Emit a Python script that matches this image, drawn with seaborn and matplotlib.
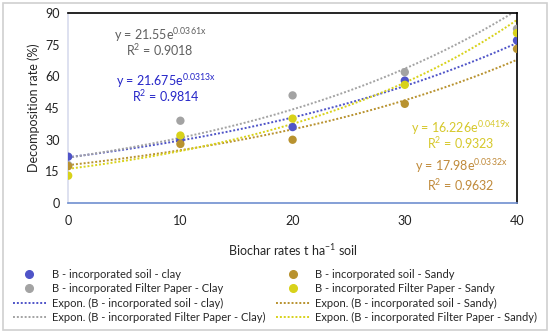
import numpy as np
import pandas as pd
import matplotlib.pyplot as plt
import seaborn as sns
from matplotlib.lines import Line2D
from matplotlib.patches import Rectangle

# data
rates = [0, 10, 20, 30, 40]
soil_clay = [22, 30, 36, 58, 77]
paper_clay = [18, 39, 51, 62, 82.5]
soil_sandy = [17.5, 28, 30, 47, 73]
paper_sandy = [13, 32, 40, 56, 80.5]

# exponential trend parameters printed on the chart (a, b, R2)
fit_soil_clay = (21.675, 0.0313, 0.9814)
fit_paper_clay = (21.55, 0.0361, 0.9018)
fit_soil_sandy = (17.98, 0.0332, 0.9632)
fit_paper_sandy = (16.226, 0.0419, 0.9323)

names = ["B - incorporated soil - clay", "B - incorporated Filter Paper - Clay",
         "B - incorporated soil - Sandy", "B - incorporated Filter Paper - Sandy"]
values = [soil_clay, paper_clay, soil_sandy, paper_sandy]
fits = [fit_soil_clay, fit_paper_clay, fit_soil_sandy, fit_paper_sandy]
colors = ["#4F54C8", "#A3A3A3", "#B8922F", "#D8D21A"]
text_colors = ["#2626C8", "#5F5F5F", "#C08A3A", "#D6C82A"]

df = pd.DataFrame({
    "rate": rates * 4,
    "value": soil_clay + paper_clay + soil_sandy + paper_sandy,
    "series": [n for n in names for _ in rates],
})

xs = np.linspace(0, 40, 200)
trend = pd.concat([
    pd.DataFrame({"rate": xs, "value": a * np.exp(b * xs), "series": n})
    for n, (a, b, r2) in zip(names, fits)
])

sns.set_theme(style="white")
plt.rcParams['font.family'] = ['Lato', 'DejaVu Sans']
plt.rcParams['mathtext.fontset'] = 'custom'
plt.rcParams['mathtext.rm'] = 'Lato'
plt.rcParams['mathtext.it'] = 'Lato'

fig = plt.figure(figsize=(5.5, 3.33), dpi=100)
ax = fig.add_axes([0.124, 0.39, 0.816, 0.571])

palette = dict(zip(names, colors))
sns.lineplot(data=trend, x="rate", y="value", hue="series", palette=palette,
             ax=ax, linestyle=(0, (1, 1)), linewidth=1.4, legend=False)
sns.scatterplot(data=df, x="rate", y="value", hue="series", palette=palette,
                ax=ax, s=36, edgecolor="none", legend=False, zorder=3)

ax.set_xlim(0, 40)
ax.set_ylim(0, 90)
ax.set_xticks([0, 10, 20, 30, 40])
ax.set_yticks(np.arange(0, 91, 15))
ax.tick_params(axis='both', labelsize=9, colors="#222222")
ax.tick_params(axis='x', direction='inout', length=5, color="#6F8FCF", pad=6)
ax.tick_params(axis='y', length=0, pad=6)
ax.set_xlabel("Biochar rates t ha$^{-1}$ soil", fontsize=9, labelpad=11)
ax.set_ylabel("Decomposition rate (%)", fontsize=9)
ax.spines['bottom'].set_color("#6F8FCF")
ax.spines['left'].set_color("#D8DCEE")
ax.spines['top'].set_color("black")
ax.spines['right'].set_color("black")
for s in ax.spines.values():
    s.set_linewidth(1.2)

# trend equations: (x, baseline of equation, baseline of R2)
pos = [(8.7, 55.6, 48.0), (8.2, 77.3, 69.5), (35.0, 15.0, 5.9), (35.0, 33.4, 25.4)]
for (a, b, r2), (px, py, pr), tc in zip(fits, pos, text_colors):
    ax.text(px, py, f"y = {a:g}e$^{{{b:g}x}}$", color=tc, fontsize=9, ha="center", va="baseline")
    ax.text(px, pr, f"R$^2$ = {r2:.4f}", color=tc, fontsize=9, ha="center", va="baseline")

handles = []
labels = []
for n, c in zip(names, colors):
    handles.append(Line2D([], [], marker='o', linestyle='none', color=c, markersize=5.5))
    labels.append(n)
for n, c in zip(names, colors):
    handles.append(Line2D([], [], linestyle=(0, (1, 1)), color=c, linewidth=1.4))
    labels.append(f"Expon. ({n})")
order = [0, 1, 4, 5, 2, 3, 6, 7]
fig.legend([handles[i] for i in order], [labels[i] for i in order],
           loc="lower center", bbox_to_anchor=(0.5, 0.0), ncol=2, frameon=False,
           fontsize=8, handlelength=3, columnspacing=1.0, labelspacing=0.3,
           handletextpad=0.5)

fig.patches.append(Rectangle((0.006, 0.009), 0.988, 0.982, transform=fig.transFigure,
                             fill=False, edgecolor="#D0D0D0", linewidth=1.2))

fig.savefig("out.png", dpi=100)
